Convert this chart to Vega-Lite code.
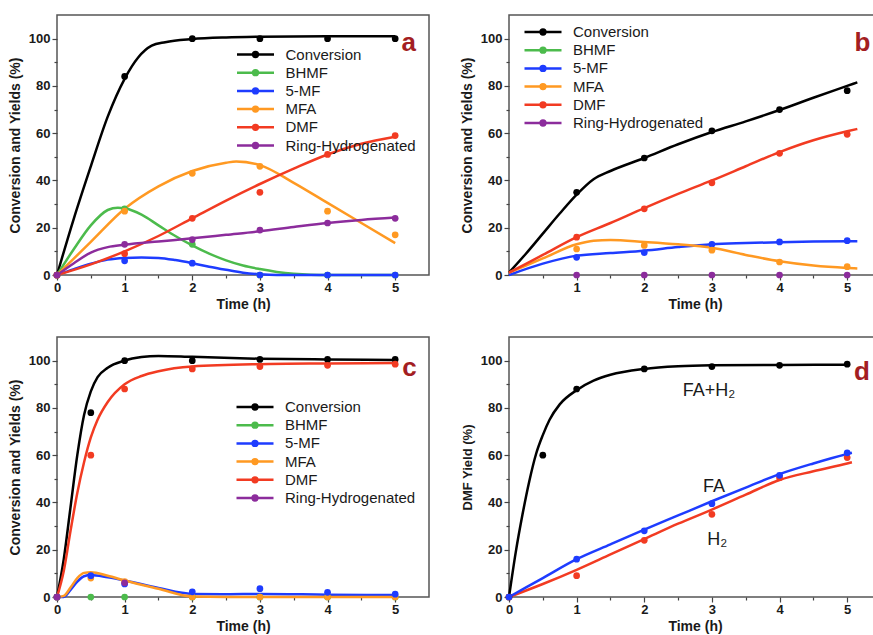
{
  "$schema": "https://vega.github.io/schema/vega-lite/v6.json",
  "background": "white",
  "padding": {"left": 7, "top": 14, "right": 0, "bottom": 0},
  "columns": 2,
  "spacing": {"column": 80, "row": 62},
  "bounds": "flush",
  "resolve": {"scale": {"color": "independent"}},
  "config": {
    "font": "Liberation Sans",
    "view": {"stroke": "#555555", "strokeWidth": 1.5},
    "axis": {"grid": false, "domain": false, "tickColor": "#444444", "tickSize": 5, "tickWidth": 1.2, "labelFont": "Liberation Sans", "labelFontWeight": "bold", "labelFontSize": 13, "labelColor": "#1a1a1a", "labelPadding": 2, "labelFlush": false, "titleFont": "Liberation Sans", "titleFontWeight": "bold", "titleFontSize": 14, "titleColor": "#1a1a1a"},
    "axisX": {"titlePadding": 3, "labelPadding": 1},
    "axisY": {"titlePadding": 6},
    "legend": {"orient": "none", "title": null, "padding": 0, "clipHeight": 16, "symbolType": "M-1,0H1M0.13,0A0.13,0.13,0,1,1,-0.13,0A0.13,0.13,0,1,1,0.13,0M0.04,0A0.04,0.04,0,1,1,-0.04,0A0.04,0.04,0,1,1,0.04,0", "symbolSize": 1369, "symbolStrokeWidth": 2.5, "symbolFillColor": "transparent", "labelFont": "Liberation Sans", "labelFontSize": 15, "labelColor": "#1a1a1a", "labelOffset": 10, "rowPadding": 2.2}
  },
  "datasets": {
    "ptsA": [
      {"series": "Conversion", "t": 0, "v": 0}, {"series": "Conversion", "t": 1, "v": 84}, {"series": "Conversion", "t": 2, "v": 100}, {"series": "Conversion", "t": 3, "v": 100}, {"series": "Conversion", "t": 4, "v": 100}, {"series": "Conversion", "t": 5, "v": 100},
      {"series": "BHMF", "t": 0, "v": 0}, {"series": "BHMF", "t": 1, "v": 28}, {"series": "BHMF", "t": 2, "v": 13}, {"series": "BHMF", "t": 3, "v": 0}, {"series": "BHMF", "t": 4, "v": 0}, {"series": "BHMF", "t": 5, "v": 0},
      {"series": "5-MF", "t": 0, "v": 0}, {"series": "5-MF", "t": 1, "v": 6}, {"series": "5-MF", "t": 2, "v": 5}, {"series": "5-MF", "t": 3, "v": 0}, {"series": "5-MF", "t": 4, "v": 0}, {"series": "5-MF", "t": 5, "v": 0},
      {"series": "MFA", "t": 0, "v": 0}, {"series": "MFA", "t": 1, "v": 27}, {"series": "MFA", "t": 2, "v": 43}, {"series": "MFA", "t": 3, "v": 46}, {"series": "MFA", "t": 4, "v": 27}, {"series": "MFA", "t": 5, "v": 17},
      {"series": "DMF", "t": 0, "v": 0}, {"series": "DMF", "t": 1, "v": 9}, {"series": "DMF", "t": 2, "v": 24}, {"series": "DMF", "t": 3, "v": 35}, {"series": "DMF", "t": 4, "v": 51}, {"series": "DMF", "t": 5, "v": 59},
      {"series": "Ring-Hydrogenated", "t": 0, "v": 0}, {"series": "Ring-Hydrogenated", "t": 1, "v": 13}, {"series": "Ring-Hydrogenated", "t": 2, "v": 15}, {"series": "Ring-Hydrogenated", "t": 3, "v": 19}, {"series": "Ring-Hydrogenated", "t": 4, "v": 22}, {"series": "Ring-Hydrogenated", "t": 5, "v": 24}
    ],
    "crvA": [
      {"series": "Conversion", "t": 0, "v": 0}, {"series": "Conversion", "t": 0.25, "v": 24}, {"series": "Conversion", "t": 0.5, "v": 46}, {"series": "Conversion", "t": 0.75, "v": 67}, {"series": "Conversion", "t": 1, "v": 83}, {"series": "Conversion", "t": 1.2, "v": 92}, {"series": "Conversion", "t": 1.4, "v": 97}, {"series": "Conversion", "t": 1.6, "v": 98.5}, {"series": "Conversion", "t": 2, "v": 99.8}, {"series": "Conversion", "t": 2.5, "v": 100.5}, {"series": "Conversion", "t": 3, "v": 100.8}, {"series": "Conversion", "t": 4, "v": 101}, {"series": "Conversion", "t": 5, "v": 101},
      {"series": "BHMF", "t": 0, "v": 0}, {"series": "BHMF", "t": 0.25, "v": 11}, {"series": "BHMF", "t": 0.5, "v": 21}, {"series": "BHMF", "t": 0.75, "v": 27.5}, {"series": "BHMF", "t": 0.9, "v": 28.5}, {"series": "BHMF", "t": 1, "v": 28.2}, {"series": "BHMF", "t": 1.25, "v": 25.5}, {"series": "BHMF", "t": 1.5, "v": 21}, {"series": "BHMF", "t": 1.75, "v": 16.5}, {"series": "BHMF", "t": 2, "v": 12.5}, {"series": "BHMF", "t": 2.25, "v": 9}, {"series": "BHMF", "t": 2.5, "v": 6.2}, {"series": "BHMF", "t": 2.75, "v": 4}, {"series": "BHMF", "t": 3, "v": 2.5}, {"series": "BHMF", "t": 3.25, "v": 1.3}, {"series": "BHMF", "t": 3.5, "v": 0.5}, {"series": "BHMF", "t": 3.75, "v": 0.1}, {"series": "BHMF", "t": 4, "v": 0}, {"series": "BHMF", "t": 5, "v": 0},
      {"series": "5-MF", "t": 0, "v": 0}, {"series": "5-MF", "t": 0.25, "v": 2.5}, {"series": "5-MF", "t": 0.5, "v": 4.8}, {"series": "5-MF", "t": 0.75, "v": 6.5}, {"series": "5-MF", "t": 1, "v": 7.2}, {"series": "5-MF", "t": 1.25, "v": 7.4}, {"series": "5-MF", "t": 1.5, "v": 7.2}, {"series": "5-MF", "t": 1.75, "v": 6.3}, {"series": "5-MF", "t": 2, "v": 5}, {"series": "5-MF", "t": 2.25, "v": 3.5}, {"series": "5-MF", "t": 2.5, "v": 2.2}, {"series": "5-MF", "t": 2.75, "v": 1}, {"series": "5-MF", "t": 3, "v": 0.3}, {"series": "5-MF", "t": 3.25, "v": 0}, {"series": "5-MF", "t": 5, "v": 0},
      {"series": "MFA", "t": 0, "v": 0}, {"series": "MFA", "t": 0.5, "v": 14}, {"series": "MFA", "t": 1, "v": 28}, {"series": "MFA", "t": 1.5, "v": 37.5}, {"series": "MFA", "t": 2, "v": 44}, {"series": "MFA", "t": 2.5, "v": 47.5}, {"series": "MFA", "t": 2.65, "v": 48}, {"series": "MFA", "t": 3, "v": 46.5}, {"series": "MFA", "t": 3.5, "v": 39}, {"series": "MFA", "t": 4, "v": 30.5}, {"series": "MFA", "t": 4.5, "v": 22}, {"series": "MFA", "t": 5, "v": 13.5},
      {"series": "DMF", "t": 0, "v": 0}, {"series": "DMF", "t": 0.5, "v": 4.5}, {"series": "DMF", "t": 1, "v": 10}, {"series": "DMF", "t": 1.5, "v": 16.5}, {"series": "DMF", "t": 2, "v": 24}, {"series": "DMF", "t": 2.5, "v": 31.5}, {"series": "DMF", "t": 3, "v": 38.5}, {"series": "DMF", "t": 3.5, "v": 45}, {"series": "DMF", "t": 4, "v": 51}, {"series": "DMF", "t": 4.5, "v": 55.5}, {"series": "DMF", "t": 5, "v": 58.5},
      {"series": "Ring-Hydrogenated", "t": 0, "v": 0}, {"series": "Ring-Hydrogenated", "t": 0.25, "v": 5}, {"series": "Ring-Hydrogenated", "t": 0.5, "v": 9.5}, {"series": "Ring-Hydrogenated", "t": 0.75, "v": 11.8}, {"series": "Ring-Hydrogenated", "t": 1, "v": 12.8}, {"series": "Ring-Hydrogenated", "t": 1.5, "v": 14.2}, {"series": "Ring-Hydrogenated", "t": 2, "v": 15.5}, {"series": "Ring-Hydrogenated", "t": 2.5, "v": 17}, {"series": "Ring-Hydrogenated", "t": 3, "v": 18.5}, {"series": "Ring-Hydrogenated", "t": 3.5, "v": 20.3}, {"series": "Ring-Hydrogenated", "t": 4, "v": 22}, {"series": "Ring-Hydrogenated", "t": 4.5, "v": 23.3}, {"series": "Ring-Hydrogenated", "t": 5, "v": 24.3}
    ],
    "ptsB": [
      {"series": "Conversion", "t": 1, "v": 35}, {"series": "Conversion", "t": 2, "v": 49.5}, {"series": "Conversion", "t": 3, "v": 61}, {"series": "Conversion", "t": 4, "v": 70}, {"series": "Conversion", "t": 5, "v": 78},
      {"series": "5-MF", "t": 1, "v": 7.5}, {"series": "5-MF", "t": 2, "v": 9.5}, {"series": "5-MF", "t": 3, "v": 13}, {"series": "5-MF", "t": 4, "v": 14}, {"series": "5-MF", "t": 5, "v": 14.5},
      {"series": "MFA", "t": 1, "v": 11}, {"series": "MFA", "t": 2, "v": 12.5}, {"series": "MFA", "t": 3, "v": 10.5}, {"series": "MFA", "t": 4, "v": 5.5}, {"series": "MFA", "t": 5, "v": 3.5},
      {"series": "DMF", "t": 1, "v": 16}, {"series": "DMF", "t": 2, "v": 28}, {"series": "DMF", "t": 3, "v": 39}, {"series": "DMF", "t": 4, "v": 51.5}, {"series": "DMF", "t": 5, "v": 59.5},
      {"series": "Ring-Hydrogenated", "t": 1, "v": 0}, {"series": "Ring-Hydrogenated", "t": 2, "v": 0}, {"series": "Ring-Hydrogenated", "t": 3, "v": 0}, {"series": "Ring-Hydrogenated", "t": 4, "v": 0}, {"series": "Ring-Hydrogenated", "t": 5, "v": 0}
    ],
    "crvB": [
      {"series": "Conversion", "t": 0, "v": 1}, {"series": "Conversion", "t": 0.25, "v": 9}, {"series": "Conversion", "t": 0.5, "v": 17.5}, {"series": "Conversion", "t": 0.75, "v": 26}, {"series": "Conversion", "t": 1, "v": 34}, {"series": "Conversion", "t": 1.25, "v": 40.5}, {"series": "Conversion", "t": 1.5, "v": 44}, {"series": "Conversion", "t": 2, "v": 49.5}, {"series": "Conversion", "t": 2.5, "v": 55.3}, {"series": "Conversion", "t": 3, "v": 60.5}, {"series": "Conversion", "t": 3.5, "v": 65}, {"series": "Conversion", "t": 4, "v": 69.8}, {"series": "Conversion", "t": 4.5, "v": 75}, {"series": "Conversion", "t": 5, "v": 80}, {"series": "Conversion", "t": 5.15, "v": 81.5},
      {"series": "5-MF", "t": 0, "v": 0}, {"series": "5-MF", "t": 0.5, "v": 4.8}, {"series": "5-MF", "t": 1, "v": 8.2}, {"series": "5-MF", "t": 1.5, "v": 9.3}, {"series": "5-MF", "t": 2, "v": 10.3}, {"series": "5-MF", "t": 2.5, "v": 11.8}, {"series": "5-MF", "t": 3, "v": 13}, {"series": "5-MF", "t": 3.5, "v": 13.5}, {"series": "5-MF", "t": 4, "v": 13.9}, {"series": "5-MF", "t": 4.5, "v": 14.2}, {"series": "5-MF", "t": 5, "v": 14.3}, {"series": "5-MF", "t": 5.15, "v": 14.3},
      {"series": "MFA", "t": 0, "v": 1}, {"series": "MFA", "t": 0.5, "v": 7}, {"series": "MFA", "t": 1, "v": 13}, {"series": "MFA", "t": 1.25, "v": 14.5}, {"series": "MFA", "t": 1.5, "v": 14.8}, {"series": "MFA", "t": 2, "v": 14}, {"series": "MFA", "t": 2.5, "v": 13}, {"series": "MFA", "t": 3, "v": 11.5}, {"series": "MFA", "t": 3.5, "v": 8.5}, {"series": "MFA", "t": 4, "v": 5.8}, {"series": "MFA", "t": 4.5, "v": 4}, {"series": "MFA", "t": 5, "v": 3}, {"series": "MFA", "t": 5.15, "v": 2.8},
      {"series": "DMF", "t": 0, "v": 1}, {"series": "DMF", "t": 0.5, "v": 8.5}, {"series": "DMF", "t": 1, "v": 16}, {"series": "DMF", "t": 1.5, "v": 22}, {"series": "DMF", "t": 2, "v": 28.3}, {"series": "DMF", "t": 2.5, "v": 34.3}, {"series": "DMF", "t": 3, "v": 40}, {"series": "DMF", "t": 3.5, "v": 46}, {"series": "DMF", "t": 4, "v": 52}, {"series": "DMF", "t": 4.5, "v": 57}, {"series": "DMF", "t": 5, "v": 60.8}, {"series": "DMF", "t": 5.15, "v": 61.8}
    ],
    "ptsC": [
      {"series": "Conversion", "t": 0, "v": 0}, {"series": "Conversion", "t": 0.5, "v": 78}, {"series": "Conversion", "t": 1, "v": 100}, {"series": "Conversion", "t": 2, "v": 100}, {"series": "Conversion", "t": 3, "v": 100.5}, {"series": "Conversion", "t": 4, "v": 100.5}, {"series": "Conversion", "t": 5, "v": 100.5},
      {"series": "DMF", "t": 0, "v": 0}, {"series": "DMF", "t": 0.5, "v": 60}, {"series": "DMF", "t": 1, "v": 88}, {"series": "DMF", "t": 2, "v": 96.5}, {"series": "DMF", "t": 3, "v": 97.5}, {"series": "DMF", "t": 4, "v": 98}, {"series": "DMF", "t": 5, "v": 98.5},
      {"series": "BHMF", "t": 0, "v": 0}, {"series": "BHMF", "t": 0.5, "v": 0}, {"series": "BHMF", "t": 1, "v": 0}, {"series": "BHMF", "t": 2, "v": 0}, {"series": "BHMF", "t": 3, "v": 0}, {"series": "BHMF", "t": 4, "v": 0}, {"series": "BHMF", "t": 5, "v": 0},
      {"series": "MFA", "t": 0, "v": 0}, {"series": "MFA", "t": 0.5, "v": 8}, {"series": "MFA", "t": 1, "v": 6.5}, {"series": "MFA", "t": 2, "v": 0}, {"series": "MFA", "t": 3, "v": 0}, {"series": "MFA", "t": 4, "v": 0}, {"series": "MFA", "t": 5, "v": 0},
      {"series": "5-MF", "t": 0, "v": 0}, {"series": "5-MF", "t": 0.5, "v": 9}, {"series": "5-MF", "t": 1, "v": 5.5}, {"series": "5-MF", "t": 2, "v": 2.2}, {"series": "5-MF", "t": 3, "v": 3.5}, {"series": "5-MF", "t": 4, "v": 2}, {"series": "5-MF", "t": 5, "v": 1.2},
      {"series": "Ring-Hydrogenated", "t": 0, "v": 0}, {"series": "Ring-Hydrogenated", "t": 1, "v": 6}
    ],
    "crvC": [
      {"series": "Conversion", "t": 0, "v": 0}, {"series": "Conversion", "t": 0.1, "v": 16}, {"series": "Conversion", "t": 0.2, "v": 38}, {"series": "Conversion", "t": 0.3, "v": 60}, {"series": "Conversion", "t": 0.4, "v": 77}, {"series": "Conversion", "t": 0.5, "v": 87}, {"series": "Conversion", "t": 0.6, "v": 93}, {"series": "Conversion", "t": 0.75, "v": 97}, {"series": "Conversion", "t": 1, "v": 100}, {"series": "Conversion", "t": 1.25, "v": 101.5}, {"series": "Conversion", "t": 1.5, "v": 102}, {"series": "Conversion", "t": 2, "v": 101.6}, {"series": "Conversion", "t": 3, "v": 100.8}, {"series": "Conversion", "t": 4, "v": 100.5}, {"series": "Conversion", "t": 5, "v": 100.3},
      {"series": "5-MF", "t": 0, "v": 0}, {"series": "5-MF", "t": 0.1, "v": 0}, {"series": "5-MF", "t": 0.2, "v": 3}, {"series": "5-MF", "t": 0.3, "v": 6.5}, {"series": "5-MF", "t": 0.4, "v": 8.8}, {"series": "5-MF", "t": 0.5, "v": 9.3}, {"series": "5-MF", "t": 0.75, "v": 8.3}, {"series": "5-MF", "t": 1, "v": 7}, {"series": "5-MF", "t": 1.5, "v": 3.8}, {"series": "5-MF", "t": 2, "v": 1.3}, {"series": "5-MF", "t": 2.5, "v": 1.2}, {"series": "5-MF", "t": 3, "v": 1.3}, {"series": "5-MF", "t": 4, "v": 1}, {"series": "5-MF", "t": 5, "v": 0.8},
      {"series": "MFA", "t": 0, "v": 0}, {"series": "MFA", "t": 0.1, "v": 0.5}, {"series": "MFA", "t": 0.2, "v": 4}, {"series": "MFA", "t": 0.3, "v": 8}, {"series": "MFA", "t": 0.4, "v": 10.2}, {"series": "MFA", "t": 0.5, "v": 10.5}, {"series": "MFA", "t": 0.75, "v": 9}, {"series": "MFA", "t": 1, "v": 7}, {"series": "MFA", "t": 1.5, "v": 3.5}, {"series": "MFA", "t": 2, "v": 0.2}, {"series": "MFA", "t": 2.5, "v": 0}, {"series": "MFA", "t": 5, "v": 0},
      {"series": "DMF", "t": 0, "v": 0}, {"series": "DMF", "t": 0.1, "v": 11}, {"series": "DMF", "t": 0.2, "v": 28}, {"series": "DMF", "t": 0.3, "v": 44}, {"series": "DMF", "t": 0.4, "v": 57}, {"series": "DMF", "t": 0.5, "v": 67.5}, {"series": "DMF", "t": 0.6, "v": 75}, {"series": "DMF", "t": 0.75, "v": 82.5}, {"series": "DMF", "t": 1, "v": 90}, {"series": "DMF", "t": 1.25, "v": 93.5}, {"series": "DMF", "t": 1.5, "v": 95.5}, {"series": "DMF", "t": 2, "v": 97.5}, {"series": "DMF", "t": 3, "v": 98.5}, {"series": "DMF", "t": 4, "v": 98.8}, {"series": "DMF", "t": 5, "v": 99}
    ],
    "ptsD": [
      {"series": "FA+H₂", "t": 0, "v": 0}, {"series": "FA+H₂", "t": 0.5, "v": 60}, {"series": "FA+H₂", "t": 1, "v": 88}, {"series": "FA+H₂", "t": 2, "v": 96.5}, {"series": "FA+H₂", "t": 3, "v": 97.5}, {"series": "FA+H₂", "t": 4, "v": 98}, {"series": "FA+H₂", "t": 5, "v": 98.5},
      {"series": "H₂", "t": 0, "v": 0}, {"series": "H₂", "t": 1, "v": 9}, {"series": "H₂", "t": 2, "v": 24}, {"series": "H₂", "t": 3, "v": 35}, {"series": "H₂", "t": 4, "v": 50.5}, {"series": "H₂", "t": 5, "v": 59},
      {"series": "FA", "t": 0, "v": 0}, {"series": "FA", "t": 1, "v": 16}, {"series": "FA", "t": 2, "v": 28}, {"series": "FA", "t": 3, "v": 39.5}, {"series": "FA", "t": 4, "v": 51.5}, {"series": "FA", "t": 5, "v": 61}
    ],
    "crvD": [
      {"series": "FA+H₂", "t": 0, "v": 0}, {"series": "FA+H₂", "t": 0.1, "v": 19}, {"series": "FA+H₂", "t": 0.2, "v": 35}, {"series": "FA+H₂", "t": 0.3, "v": 49}, {"series": "FA+H₂", "t": 0.4, "v": 60.5}, {"series": "FA+H₂", "t": 0.5, "v": 68.5}, {"series": "FA+H₂", "t": 0.6, "v": 75}, {"series": "FA+H₂", "t": 0.75, "v": 81.5}, {"series": "FA+H₂", "t": 1, "v": 87.5}, {"series": "FA+H₂", "t": 1.25, "v": 91.5}, {"series": "FA+H₂", "t": 1.5, "v": 94}, {"series": "FA+H₂", "t": 2, "v": 96.5}, {"series": "FA+H₂", "t": 2.5, "v": 97.6}, {"series": "FA+H₂", "t": 3, "v": 98}, {"series": "FA+H₂", "t": 4, "v": 98.2}, {"series": "FA+H₂", "t": 5, "v": 98.3},
      {"series": "H₂", "t": 0, "v": 0}, {"series": "H₂", "t": 0.5, "v": 5.5}, {"series": "H₂", "t": 1, "v": 11.5}, {"series": "H₂", "t": 1.5, "v": 18}, {"series": "H₂", "t": 2, "v": 24.5}, {"series": "H₂", "t": 2.5, "v": 31}, {"series": "H₂", "t": 3, "v": 37}, {"series": "H₂", "t": 3.5, "v": 43.3}, {"series": "H₂", "t": 4, "v": 49.5}, {"series": "H₂", "t": 4.5, "v": 53.2}, {"series": "H₂", "t": 5, "v": 56.5}, {"series": "H₂", "t": 5.07, "v": 57},
      {"series": "FA", "t": 0, "v": 0}, {"series": "FA", "t": 0.5, "v": 8}, {"series": "FA", "t": 1, "v": 16}, {"series": "FA", "t": 1.5, "v": 22.3}, {"series": "FA", "t": 2, "v": 28.5}, {"series": "FA", "t": 2.5, "v": 34.5}, {"series": "FA", "t": 3, "v": 40.5}, {"series": "FA", "t": 3.5, "v": 46.3}, {"series": "FA", "t": 4, "v": 52}, {"series": "FA", "t": 4.5, "v": 56.5}, {"series": "FA", "t": 5, "v": 60.5}, {"series": "FA", "t": 5.07, "v": 61}
    ]
  },
  "concat": [
    {
      "width": 372, "height": 260,
      "resolve": {"axis": {"x": "independent", "y": "independent"}},
      "layer": [
        {"data": {"name": "crvA"}, "mark": {"type": "line", "interpolate": "monotone", "strokeWidth": 2.5},
         "encoding": {
           "x": {"field": "t", "type": "quantitative", "scale": {"domain": [0, 5.5], "nice": false, "zero": false}, "axis": {"orient": "bottom", "title": "Time (h)", "format": "d", "values": [0, 1, 2, 3, 4, 5]}},
           "y": {"field": "v", "type": "quantitative", "scale": {"domain": [0, 110], "nice": false}, "axis": {"orient": "left", "title": "Conversion and Yields (%)", "format": "d", "values": [0, 20, 40, 60, 80, 100]}},
           "color": {"field": "series", "type": "nominal", "scale": {"domain": ["Conversion", "BHMF", "5-MF", "MFA", "DMF", "Ring-Hydrogenated"], "range": ["#000000", "#4cbb4c", "#1e3cff", "#ff9922", "#f23b22", "#8c2c9c"]}, "legend": {"legendX": 178.5, "legendY": 31.5}}
         }},
        {"data": {"name": "ptsA"}, "mark": {"type": "point", "filled": true, "size": 45, "opacity": 1},
         "encoding": {
           "x": {"field": "t", "type": "quantitative", "axis": {"orient": "bottom", "title": null, "labels": false, "tickSize": 3, "values": [0.5, 1.5, 2.5, 3.5, 4.5]}},
           "y": {"field": "v", "type": "quantitative", "axis": {"orient": "left", "title": null, "labels": false, "tickSize": 3, "values": [10, 30, 50, 70, 90]}},
           "color": {"field": "series", "type": "nominal", "legend": null}
         }},
        {"data": {"values": [{}]}, "mark": {"type": "text", "font": "Liberation Sans", "fontWeight": "bold", "fontSize": 26, "color": "#a31e22", "align": "center", "baseline": "alphabetic"},
         "encoding": {"x": {"datum": 5.2, "type": "quantitative", "axis": null}, "y": {"datum": 94.7, "type": "quantitative", "axis": null}, "text": {"value": "a"}}}
      ]
    },
    {
      "width": 372, "height": 260,
      "resolve": {"axis": {"x": "independent", "y": "independent"}},
      "layer": [
        {"data": {"name": "crvB"}, "mark": {"type": "line", "interpolate": "monotone", "strokeWidth": 2.5},
         "encoding": {
           "x": {"field": "t", "type": "quantitative", "scale": {"domain": [0, 5.5], "nice": false, "zero": false}, "axis": {"orient": "bottom", "title": "Time (h)", "format": "d", "values": [1, 2, 3, 4, 5]}},
           "y": {"field": "v", "type": "quantitative", "scale": {"domain": [0, 110], "nice": false}, "axis": {"orient": "left", "title": "Conversion and Yields (%)", "format": "d", "values": [0, 20, 40, 60, 80, 100]}},
           "color": {"field": "series", "type": "nominal", "scale": {"domain": ["Conversion", "BHMF", "5-MF", "MFA", "DMF", "Ring-Hydrogenated"], "range": ["#000000", "#4cbb4c", "#1e3cff", "#ff9922", "#f23b22", "#8c2c9c"]}, "legend": {"legendX": 14, "legendY": 9}}
         }},
        {"data": {"name": "ptsB"}, "mark": {"type": "point", "filled": true, "size": 45, "opacity": 1},
         "encoding": {
           "x": {"field": "t", "type": "quantitative", "axis": {"orient": "bottom", "title": null, "labels": false, "tickSize": 3, "values": [0.5, 1.5, 2.5, 3.5, 4.5]}},
           "y": {"field": "v", "type": "quantitative", "axis": {"orient": "left", "title": null, "labels": false, "tickSize": 3, "values": [10, 30, 50, 70, 90]}},
           "color": {"field": "series", "type": "nominal", "legend": null}
         }},
        {"data": {"values": [{}]}, "mark": {"type": "text", "font": "Liberation Sans", "fontWeight": "bold", "fontSize": 26, "color": "#a31e22", "align": "left", "baseline": "alphabetic"},
         "encoding": {"x": {"datum": 5.11, "type": "quantitative", "axis": null}, "y": {"datum": 94.7, "type": "quantitative", "axis": null}, "text": {"value": "b"}}}
      ]
    },
    {
      "width": 372, "height": 260,
      "resolve": {"axis": {"x": "independent", "y": "independent"}},
      "layer": [
        {"data": {"name": "crvC"}, "mark": {"type": "line", "interpolate": "monotone", "strokeWidth": 2.5},
         "encoding": {
           "x": {"field": "t", "type": "quantitative", "scale": {"domain": [0, 5.5], "nice": false, "zero": false}, "axis": {"orient": "bottom", "title": "Time (h)", "format": "d", "values": [0, 1, 2, 3, 4, 5]}},
           "y": {"field": "v", "type": "quantitative", "scale": {"domain": [0, 110], "nice": false}, "axis": {"orient": "left", "title": "Conversion and Yields (%)", "format": "d", "values": [0, 20, 40, 60, 80, 100]}},
           "color": {"field": "series", "type": "nominal", "scale": {"domain": ["Conversion", "BHMF", "5-MF", "MFA", "DMF", "Ring-Hydrogenated"], "range": ["#000000", "#4cbb4c", "#1e3cff", "#ff9922", "#f23b22", "#8c2c9c"]}, "legend": {"legendX": 178, "legendY": 62}}
         }},
        {"data": {"name": "ptsC"}, "mark": {"type": "point", "filled": true, "size": 45, "opacity": 1},
         "encoding": {
           "x": {"field": "t", "type": "quantitative", "axis": {"orient": "bottom", "title": null, "labels": false, "tickSize": 3, "values": [0.5, 1.5, 2.5, 3.5, 4.5]}},
           "y": {"field": "v", "type": "quantitative", "axis": {"orient": "left", "title": null, "labels": false, "tickSize": 3, "values": [10, 30, 50, 70, 90]}},
           "color": {"field": "series", "type": "nominal", "legend": null}
         }},
        {"data": {"values": [{}]}, "mark": {"type": "text", "font": "Liberation Sans", "fontWeight": "bold", "fontSize": 26, "color": "#a31e22", "align": "center", "baseline": "alphabetic"},
         "encoding": {"x": {"datum": 5.21, "type": "quantitative", "axis": null}, "y": {"datum": 93.6, "type": "quantitative", "axis": null}, "text": {"value": "c"}}}
      ]
    },
    {
      "width": 372, "height": 260,
      "resolve": {"axis": {"x": "independent", "y": "independent"}},
      "layer": [
        {"data": {"name": "crvD"}, "mark": {"type": "line", "interpolate": "monotone", "strokeWidth": 2.5},
         "encoding": {
           "x": {"field": "t", "type": "quantitative", "scale": {"domain": [0, 5.5], "nice": false, "zero": false}, "axis": {"orient": "bottom", "title": "Time (h)", "format": "d", "values": [0, 1, 2, 3, 4, 5]}},
           "y": {"field": "v", "type": "quantitative", "scale": {"domain": [0, 110], "nice": false}, "axis": {"orient": "left", "title": "DMF Yield (%)", "titleFontSize": 13, "format": "d", "values": [0, 20, 40, 60, 80, 100]}},
           "color": {"field": "series", "type": "nominal", "scale": {"domain": ["FA+H₂", "FA", "H₂"], "range": ["#000000", "#1e3cff", "#f23b22"]}, "legend": null}
         }},
        {"data": {"name": "ptsD"}, "mark": {"type": "point", "filled": true, "size": 45, "opacity": 1},
         "encoding": {
           "x": {"field": "t", "type": "quantitative", "axis": {"orient": "bottom", "title": null, "labels": false, "tickSize": 3, "values": [0.5, 1.5, 2.5, 3.5, 4.5]}},
           "y": {"field": "v", "type": "quantitative", "axis": {"orient": "left", "title": null, "labels": false, "tickSize": 3, "values": [10, 30, 50, 70, 90]}},
           "color": {"field": "series", "type": "nominal", "legend": null}
         }},
        {"data": {"values": [{}]}, "mark": {"type": "text", "font": "Liberation Sans", "fontSize": 18, "color": "#1a1a1a", "align": "left", "baseline": "alphabetic"},
         "encoding": {"x": {"datum": 2.57, "type": "quantitative", "axis": null}, "y": {"datum": 84.9, "type": "quantitative", "axis": null}, "text": {"value": "FA+H₂"}}},
        {"data": {"values": [{}]}, "mark": {"type": "text", "font": "Liberation Sans", "fontSize": 18, "color": "#1a1a1a", "align": "left", "baseline": "alphabetic"},
         "encoding": {"x": {"datum": 2.87, "type": "quantitative", "axis": null}, "y": {"datum": 44.4, "type": "quantitative", "axis": null}, "text": {"value": "FA"}}},
        {"data": {"values": [{}]}, "mark": {"type": "text", "font": "Liberation Sans", "fontSize": 18, "color": "#1a1a1a", "align": "left", "baseline": "alphabetic"},
         "encoding": {"x": {"datum": 2.93, "type": "quantitative", "axis": null}, "y": {"datum": 22, "type": "quantitative", "axis": null}, "text": {"value": "H₂"}}},
        {"data": {"values": [{}]}, "mark": {"type": "text", "font": "Liberation Sans", "fontWeight": "bold", "fontSize": 26, "color": "#a31e22", "align": "left", "baseline": "alphabetic"},
         "encoding": {"x": {"datum": 5.1, "type": "quantitative", "axis": null}, "y": {"datum": 91.9, "type": "quantitative", "axis": null}, "text": {"value": "d"}}}
      ]
    }
  ]
}
